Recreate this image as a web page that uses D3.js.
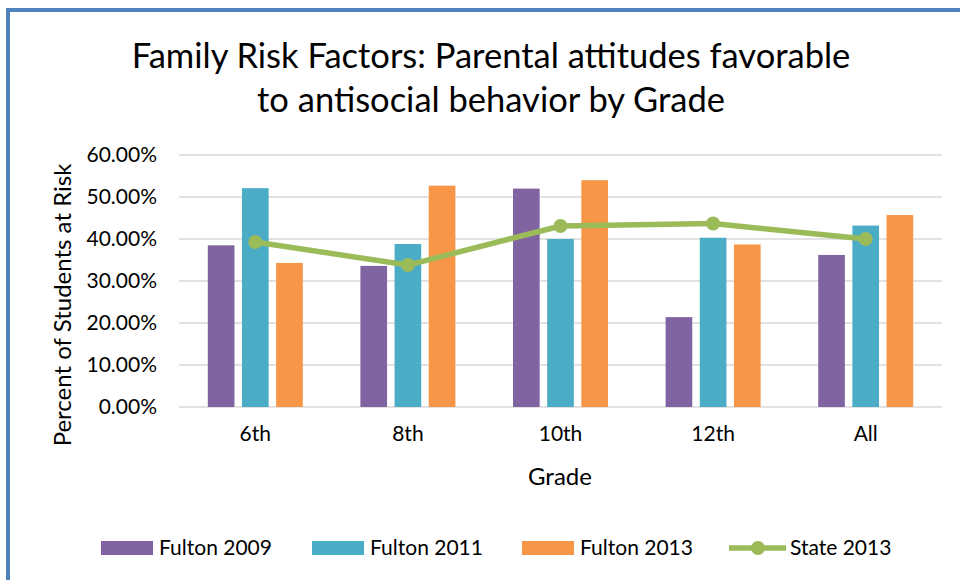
<html>
<head>
<script src="https://d3js.org/d3.v7.min.js"></script>
<style>
  body { margin: 0; background: #fff; }
  text { font-family: Lato, "Open Sans", sans-serif; fill: #000; }
</style>
</head>
<body>
<div id="chart"></div>
<script>
// data
var grades = ["6th", "8th", "10th", "12th", "All"];
var fulton2009 = [0.385, 0.336, 0.520, 0.214, 0.362];
var fulton2011 = [0.521, 0.388, 0.400, 0.403, 0.432];
var fulton2013 = [0.343, 0.527, 0.540, 0.387, 0.457];
var state2013 = [0.393, 0.338, 0.431, 0.437, 0.400];
var yTicks = [0, 0.1, 0.2, 0.3, 0.4, 0.5, 0.6];

var barSeries = [
  { name: "Fulton 2009", values: fulton2009, color: "#8064A2" },
  { name: "Fulton 2011", values: fulton2011, color: "#4BACC6" },
  { name: "Fulton 2013", values: fulton2013, color: "#F79646" }
];
var lineColor = "#9BBB59";

var width = 960, height = 580;
var plotLeft = 179, plotRight = 942, plotTop = 155, plotBottom = 407;

var svg = d3.select("#chart").append("svg")
  .attr("width", width)
  .attr("height", height);

// blue frame (top and left edges visible)
svg.append("rect").attr("x", 8).attr("y", 10).attr("width", 960).attr("height", 600)
  .attr("fill", "none").attr("stroke", "#4F81BD").attr("stroke-width", 4);

// title
svg.append("text").attr("x", 491).attr("y", 68).attr("text-anchor", "middle")
  .style("font-size", "34.5px").text("Family Risk Factors: Parental attitudes favorable");
svg.append("text").attr("x", 491).attr("y", 112).attr("text-anchor", "middle")
  .style("font-size", "34.5px").text("to antisocial behavior by Grade");

var x = d3.scaleBand().domain(grades).range([plotLeft, plotRight]);
var y = d3.scaleLinear().domain([0, 0.6]).range([plotBottom, plotTop]);
var xInner = d3.scaleBand().domain(barSeries.map(function(d){ return d.name; }))
  .range([-47.5, 47.5]).paddingInner(0.22);

// gridlines
svg.append("g").selectAll("line").data(yTicks).enter().append("line")
  .attr("x1", plotLeft).attr("x2", plotRight)
  .attr("y1", function(d){ return y(d); }).attr("y2", function(d){ return y(d); })
  .attr("stroke", "#D9D9D9").attr("stroke-width", 1.5);

// y axis labels
var yAxis = svg.append("g").attr("transform", "translate(" + 157 + ",0)")
  .call(d3.axisLeft(y).tickValues(yTicks).tickFormat(d3.format(".2%")).tickSize(0).tickPadding(0));
yAxis.select(".domain").remove();
yAxis.selectAll("text").style("font-size", "21px").attr("font-family", null);

// bars
barSeries.forEach(function(s){
  svg.append("g").selectAll("rect").data(s.values).enter().append("rect")
    .attr("x", function(d, i){ return x(grades[i]) + x.bandwidth() / 2 + xInner(s.name); })
    .attr("width", xInner.bandwidth())
    .attr("y", function(d){ return y(d); })
    .attr("height", function(d){ return y(0) - y(d); })
    .attr("fill", s.color);
});

// state line
var line = d3.line()
  .x(function(d, i){ return x(grades[i]) + x.bandwidth() / 2; })
  .y(function(d){ return y(d); });
svg.append("path").datum(state2013).attr("d", line)
  .attr("fill", "none").attr("stroke", lineColor).attr("stroke-width", 5.5)
  .attr("stroke-linejoin", "round");
svg.append("g").selectAll("circle").data(state2013).enter().append("circle")
  .attr("cx", function(d, i){ return x(grades[i]) + x.bandwidth() / 2; })
  .attr("cy", function(d){ return y(d); })
  .attr("r", 7).attr("fill", lineColor);

// x axis labels
var xAxis = svg.append("g").attr("transform", "translate(0," + (plotBottom + 14) + ")")
  .call(d3.axisBottom(x).tickSize(0).tickPadding(0));
xAxis.select(".domain").remove();
xAxis.selectAll("text").style("font-size", "21px").attr("font-family", null).attr("dy", "0.95em");

// axis titles
svg.append("text").attr("x", 560).attr("y", 485).attr("text-anchor", "middle")
  .style("font-size", "24px").text("Grade");
svg.append("text").attr("transform", "translate(71,305) rotate(-90)").attr("text-anchor", "middle")
  .style("font-size", "24px").text("Percent of Students at Risk");

// legend
var legendX = [101, 312, 522, 729];
var legend = svg.append("g");
barSeries.forEach(function(s, i){
  legend.append("rect").attr("x", legendX[i]).attr("y", 541).attr("width", 52).attr("height", 14)
    .attr("fill", s.color);
  legend.append("text").attr("x", legendX[i] + 58).attr("y", 555)
    .style("font-size", "21px").text(s.name);
});
legend.append("line").attr("x1", legendX[3]).attr("x2", legendX[3] + 57)
  .attr("y1", 548).attr("y2", 548).attr("stroke", lineColor).attr("stroke-width", 5.5);
legend.append("circle").attr("cx", legendX[3] + 29).attr("cy", 548).attr("r", 7).attr("fill", lineColor);
legend.append("text").attr("x", legendX[3] + 61).attr("y", 555)
  .style("font-size", "21px").text("State 2013");
</script>
</body>
</html>
